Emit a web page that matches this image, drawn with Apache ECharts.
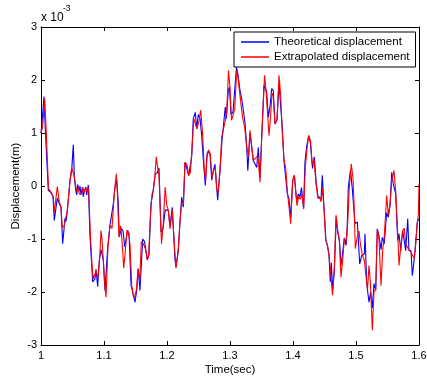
<!DOCTYPE html>
<html>
<head>
<meta charset="utf-8">
<script src="https://cdn.jsdelivr.net/npm/echarts@6/dist/echarts.min.js"></script>
<style>
html,body{margin:0;padding:0;background:#fff;}
#chart{width:427px;height:376px;}
</style>
</head>
<body>
<div id="chart"></div>
<script>
// Displacement values in units of 1e-3 m; time in seconds
var theoretical = [[1.0000,1.0],[1.0016,1.2],[1.0048,1.69],[1.0071,1.0],[1.0116,-0.08],[1.0154,-0.12],[1.0190,-0.2],[1.0211,-0.65],[1.0259,-0.23],[1.0290,-0.33],[1.0317,-0.4],[1.0344,-1.09],[1.0381,-0.61],[1.0397,-0.67],[1.0417,-0.48],[1.0437,-0.5],[1.0460,0.1],[1.0487,0.3],[1.0513,0.78],[1.0529,0.17],[1.0551,-0.08],[1.0567,-0.17],[1.0583,0.03],[1.0603,-0.1],[1.0619,0.0],[1.0635,-0.17],[1.0656,-0.02],[1.0671,-0.2],[1.0687,-0.1],[1.0710,-0.02],[1.0725,-0.17],[1.0751,0.02],[1.0778,-0.96],[1.0805,-1.5],[1.0821,-1.81],[1.0857,-1.75],[1.0873,-1.57],[1.0900,-1.9],[1.0925,-1.4],[1.0952,-1.2],[1.0989,-1.4],[1.1016,-1.97],[1.1059,-1.15],[1.1095,-0.74],[1.1122,-0.75],[1.1148,-0.33],[1.1175,-0.02],[1.1202,0.12],[1.1227,-0.33],[1.1243,-0.96],[1.1275,-0.8],[1.1302,-0.85],[1.1329,-1.15],[1.1349,-1.15],[1.1376,-0.84],[1.1397,-0.9],[1.1429,-1.87],[1.1465,-2.06],[1.1492,-2.19],[1.1519,-1.97],[1.1544,-1.56],[1.1571,-1.97],[1.1614,-1.0],[1.1643,-1.05],[1.1687,-1.39],[1.1714,-1.3],[1.1746,-0.33],[1.1773,-0.15],[1.1794,-0.12],[1.1814,0.23],[1.1846,0.25],[1.1873,0.34],[1.1905,-0.87],[1.1937,-0.8],[1.1973,-0.45],[1.2021,-0.46],[1.2048,-0.75],[1.2084,-0.4],[1.2127,-1.4],[1.2143,-1.52],[1.2179,-1.22],[1.2206,-0.68],[1.2233,-0.21],[1.2259,-0.4],[1.2286,0.45],[1.2313,0.45],[1.2344,0.2],[1.2365,0.17],[1.2392,0.55],[1.2417,1.27],[1.2449,1.39],[1.2471,1.08],[1.2497,1.35],[1.2524,1.28],[1.2551,0.95],[1.2576,0.5],[1.2608,0.01],[1.2635,0.61],[1.2656,0.66],[1.2683,0.6],[1.2710,0.11],[1.2735,0.29],[1.2762,0.41],[1.2789,-0.05],[1.2805,-0.27],[1.2841,0.29],[1.2873,0.86],[1.2894,0.88],[1.2925,1.49],[1.2941,1.27],[1.2973,1.8],[1.2992,1.87],[1.3016,1.35],[1.3048,1.4],[1.3075,1.42],[1.3103,2.24],[1.3127,2.1],[1.3159,1.8],[1.3186,1.65],[1.3211,1.43],[1.3238,1.2],[1.3265,0.73],[1.3283,0.29],[1.3317,1.0],[1.3344,0.98],[1.3370,0.48],[1.3397,0.5],[1.3424,0.35],[1.3449,0.73],[1.3476,0.15],[1.3503,0.92],[1.3540,1.9],[1.3583,1.77],[1.3608,1.3],[1.3635,1.5],[1.3662,1.84],[1.3687,1.8],[1.3714,1.17],[1.3746,1.25],[1.3778,1.95],[1.3805,1.5],[1.3830,1.1],[1.3857,0.48],[1.3884,0.45],[1.3910,-0.15],[1.3937,-0.25],[1.3963,-0.6],[1.3995,0.1],[1.4021,0.2],[1.4059,-0.3],[1.4084,-0.15],[1.4111,-0.2],[1.4135,-0.03],[1.4167,-0.43],[1.4190,0.45],[1.4217,0.75],[1.4249,0.95],[1.4275,0.82],[1.4310,0.33],[1.4338,0.55],[1.4370,0.04],[1.4397,-0.2],[1.4424,-0.18],[1.4444,-0.25],[1.4465,0.2],[1.4497,-0.52],[1.4524,-1.03],[1.4551,-1.15],[1.4571,-1.3],[1.4592,-1.81],[1.4608,-1.45],[1.4630,-1.95],[1.4656,-1.6],[1.4687,-0.6],[1.4714,-0.9],[1.4738,-1.05],[1.4762,-1.5],[1.4789,-1.25],[1.4814,-0.98],[1.4841,-1.12],[1.4857,-0.9],[1.4878,-0.02],[1.4913,0.3],[1.4941,-0.05],[1.4984,-0.71],[1.5021,-0.68],[1.5059,-1.47],[1.5090,-1.31],[1.5132,-1.28],[1.5143,-0.9],[1.5170,-1.84],[1.5206,-2.19],[1.5233,-2.0],[1.5259,-2.3],[1.5286,-1.84],[1.5313,-1.97],[1.5338,-0.81],[1.5365,-0.94],[1.5397,-1.2],[1.5417,-0.97],[1.5449,-1.09],[1.5487,-0.5],[1.5513,-0.59],[1.5540,-0.37],[1.5567,0.26],[1.5592,0.04],[1.5630,-0.15],[1.5662,-1.03],[1.5683,-0.9],[1.5710,-1.22],[1.5741,-0.84],[1.5767,-0.84],[1.5789,-1.22],[1.5821,-0.62],[1.5841,-1.22],[1.5873,-1.22],[1.5894,-1.69],[1.5925,-1.37],[1.5948,-1.06],[1.5973,-0.68],[1.6000,-0.62]];

var extrapolated = [[1.0000,1.0],[1.0024,1.1],[1.0059,1.65],[1.0084,1.0],[1.0119,-0.05],[1.0159,-0.12],[1.0195,-0.2],[1.0211,-0.5],[1.0259,-0.01],[1.0290,-0.3],[1.0317,-0.4],[1.0338,-0.78],[1.0370,-0.75],[1.0392,-0.6],[1.0417,-0.48],[1.0440,-0.45],[1.0460,0.1],[1.0487,0.35],[1.0508,0.38],[1.0529,0.17],[1.0551,0.0],[1.0571,-0.1],[1.0592,-0.05],[1.0608,-0.15],[1.0624,-0.12],[1.0646,-0.15],[1.0667,-0.03],[1.0687,-0.12],[1.0710,-0.03],[1.0730,-0.1],[1.0757,-0.05],[1.0783,-0.9],[1.0810,-1.5],[1.0830,-1.75],[1.0857,-1.78],[1.0878,-1.6],[1.0905,-1.75],[1.0932,-1.35],[1.0952,-0.84],[1.0968,-1.0],[1.0989,-1.4],[1.1008,-1.8],[1.1032,-2.1],[1.1063,-1.15],[1.1095,-0.74],[1.1127,-0.8],[1.1154,-0.3],[1.1175,0.0],[1.1195,0.23],[1.1211,-0.1],[1.1238,-0.96],[1.1265,-0.75],[1.1290,-1.1],[1.1313,-1.55],[1.1333,-1.3],[1.1365,-0.83],[1.1392,-0.9],[1.1413,-1.1],[1.1440,-1.88],[1.1465,-2.06],[1.1484,-2.1],[1.1516,-1.95],[1.1540,-1.56],[1.1567,-1.8],[1.1592,-1.05],[1.1624,-1.09],[1.1662,-1.2],[1.1687,-1.4],[1.1710,-1.3],[1.1735,-0.6],[1.1762,-0.15],[1.1783,-0.1],[1.1805,0.16],[1.1830,0.55],[1.1852,0.35],[1.1873,0.2],[1.1894,-0.5],[1.1913,-1.09],[1.1941,-0.7],[1.1971,-0.02],[1.1995,-0.35],[1.2021,-0.46],[1.2048,-0.81],[1.2084,-0.45],[1.2116,-1.1],[1.2143,-1.55],[1.2179,-1.2],[1.2206,-0.68],[1.2233,-0.3],[1.2259,-0.35],[1.2286,0.45],[1.2317,0.4],[1.2344,0.2],[1.2370,0.25],[1.2397,0.7],[1.2424,1.27],[1.2449,1.3],[1.2476,1.08],[1.2503,1.2],[1.2535,1.43],[1.2567,0.95],[1.2592,0.3],[1.2614,0.1],[1.2635,0.55],[1.2662,0.68],[1.2687,0.6],[1.2714,0.15],[1.2741,0.3],[1.2767,0.35],[1.2789,-0.05],[1.2810,-0.15],[1.2841,0.29],[1.2868,0.92],[1.2894,0.9],[1.2929,1.25],[1.2948,1.4],[1.2976,2.18],[1.3000,1.85],[1.3024,1.24],[1.3048,1.24],[1.3075,1.45],[1.3106,2.18],[1.3127,2.05],[1.3159,1.7],[1.3183,1.45],[1.3206,1.25],[1.3233,1.1],[1.3265,0.75],[1.3294,0.55],[1.3317,1.05],[1.3344,1.02],[1.3370,0.48],[1.3397,0.45],[1.3424,0.55],[1.3449,0.5],[1.3476,0.07],[1.3503,0.9],[1.3548,2.09],[1.3576,1.75],[1.3619,0.95],[1.3643,1.3],[1.3667,1.75],[1.3687,1.7],[1.3714,1.17],[1.3746,1.25],[1.3778,2.09],[1.3805,1.7],[1.3830,1.0],[1.3857,0.48],[1.3884,0.35],[1.3910,-0.1],[1.3937,-0.4],[1.3963,-0.71],[1.3995,0.1],[1.4021,0.2],[1.4063,-0.37],[1.4090,-0.2],[1.4116,-0.25],[1.4143,-0.15],[1.4170,-0.43],[1.4195,0.35],[1.4222,0.7],[1.4249,0.95],[1.4278,0.85],[1.4306,0.4],[1.4333,0.5],[1.4365,0.05],[1.4397,-0.24],[1.4424,-0.2],[1.4444,-0.3],[1.4468,-0.05],[1.4497,-0.5],[1.4519,-1.03],[1.4544,-1.1],[1.4571,-1.3],[1.4595,-1.6],[1.4627,-2.06],[1.4656,-1.55],[1.4683,-0.55],[1.4710,-0.85],[1.4735,-1.0],[1.4762,-1.72],[1.4789,-1.4],[1.4814,-1.0],[1.4841,-1.05],[1.4868,-0.7],[1.4894,-0.02],[1.4925,0.42],[1.4952,0.15],[1.4968,-0.3],[1.4989,-1.18],[1.5021,-0.95],[1.5048,-0.85],[1.5071,-1.1],[1.5100,-1.3],[1.5132,-1.4],[1.5159,-1.7],[1.5183,-1.95],[1.5206,-1.5],[1.5230,-1.85],[1.5259,-2.72],[1.5286,-2.0],[1.5313,-1.95],[1.5338,-0.81],[1.5365,-1.0],[1.5397,-1.88],[1.5424,-1.2],[1.5449,-0.95],[1.5487,-0.18],[1.5513,-0.55],[1.5540,-0.35],[1.5567,0.1],[1.5603,0.29],[1.5630,-0.1],[1.5662,-0.9],[1.5683,-1.5],[1.5710,-1.15],[1.5741,-0.84],[1.5767,-0.8],[1.5789,-1.1],[1.5814,-1.1],[1.5841,-1.2],[1.5873,-1.25],[1.5894,-1.3],[1.5925,-1.37],[1.5948,-1.1],[1.5973,-0.7],[1.5989,-0.55],[1.6000,0.04]];

var seriesNames = ['Theoretical displacement', 'Extrapolated displacement'];
var xTicks = [1, 1.1, 1.2, 1.3, 1.4, 1.5, 1.6];
var yTicks = [-3, -2, -1, 0, 1, 2, 3];

var FONT = '"Liberation Sans", Arial, Helvetica, sans-serif';
var chart = echarts.init(document.getElementById('chart'), null, {renderer: 'canvas'});

function axisCommon(extra) {
  var base = {
    axisLine: {show: true, onZero: false, lineStyle: {color: '#000', width: 1}},
    axisTick: {show: true, inside: true, length: 4, lineStyle: {color: '#000', width: 1}},
    splitLine: {show: false},
    axisLabel: {show: false}
  };
  for (var k in extra) base[k] = extra[k];
  return base;
}

var option = {
  animation: false,
  backgroundColor: '#fff',
  grid: {left: 41, right: 8, top: 27, bottom: 31, containLabel: false, outerBoundsMode: 'none'},
  xAxis: [
    axisCommon({
      type: 'value', position: 'bottom', min: xTicks[0], max: xTicks[xTicks.length - 1], interval: 0.1,
      name: 'Time(sec)', nameLocation: 'middle', nameGap: 19, nameMoveOverlap: false,
      nameTextStyle: {color: '#000', fontFamily: FONT, fontSize: 11.5},
      axisLabel: {show: true, color: '#000', fontFamily: FONT, fontSize: 11, margin: 5,
        formatter: function (v) { return String(+v.toFixed(1)); }}
    }),
    axisCommon({type: 'value', position: 'top', min: xTicks[0], max: xTicks[xTicks.length - 1], interval: 0.1})
  ],
  yAxis: [
    axisCommon({
      type: 'value', position: 'left', min: yTicks[0], max: yTicks[yTicks.length - 1], interval: 1,
      name: 'Displacement(m)', nameLocation: 'middle', nameGap: 19, nameMoveOverlap: false,
      nameTextStyle: {color: '#000', fontFamily: FONT, fontSize: 11.5},
      axisLabel: {show: true, color: '#000', fontFamily: FONT, fontSize: 11, margin: 4,
        formatter: function (v) { return String(v); }}
    }),
    axisCommon({type: 'value', position: 'right', min: yTicks[0], max: yTicks[yTicks.length - 1], interval: 1})
  ],
  legend: {
    data: seriesNames,
    orient: 'vertical',
    left: 234, top: 32,
    padding: [3, 6, 3, 7],
    itemGap: 1,
    itemWidth: 28, itemHeight: 1.5,
    itemTextGap: 5,
    icon: 'rect',
    backgroundColor: '#fff',
    borderColor: '#000', borderWidth: 1, borderRadius: 0,
    textStyle: {color: '#000', fontFamily: FONT, fontSize: 11.5, lineHeight: 14}
  },
  graphic: [
    {type: 'text', left: 41, top: 12, style: {text: 'x 10', fill: '#000', font: '12px ' + FONT}},
    {type: 'text', left: 63, top: 4, style: {text: '-3', fill: '#000', font: '8.5px ' + FONT}}
  ],
  series: [
    {
      name: seriesNames[0], type: 'line', data: theoretical, xAxisIndex: 0, yAxisIndex: 0,
      symbol: 'none', showSymbol: false, smooth: false,
      lineStyle: {color: '#0000ff', width: 1.1}, itemStyle: {color: '#0000ff'}, z: 2
    },
    {
      name: seriesNames[1], type: 'line', data: extrapolated, xAxisIndex: 0, yAxisIndex: 0,
      symbol: 'none', showSymbol: false, smooth: false,
      lineStyle: {color: '#ff0000', width: 1.1}, itemStyle: {color: '#ff0000'}, z: 3
    }
  ]
};
chart.setOption(option);
</script>
</body>
</html>
